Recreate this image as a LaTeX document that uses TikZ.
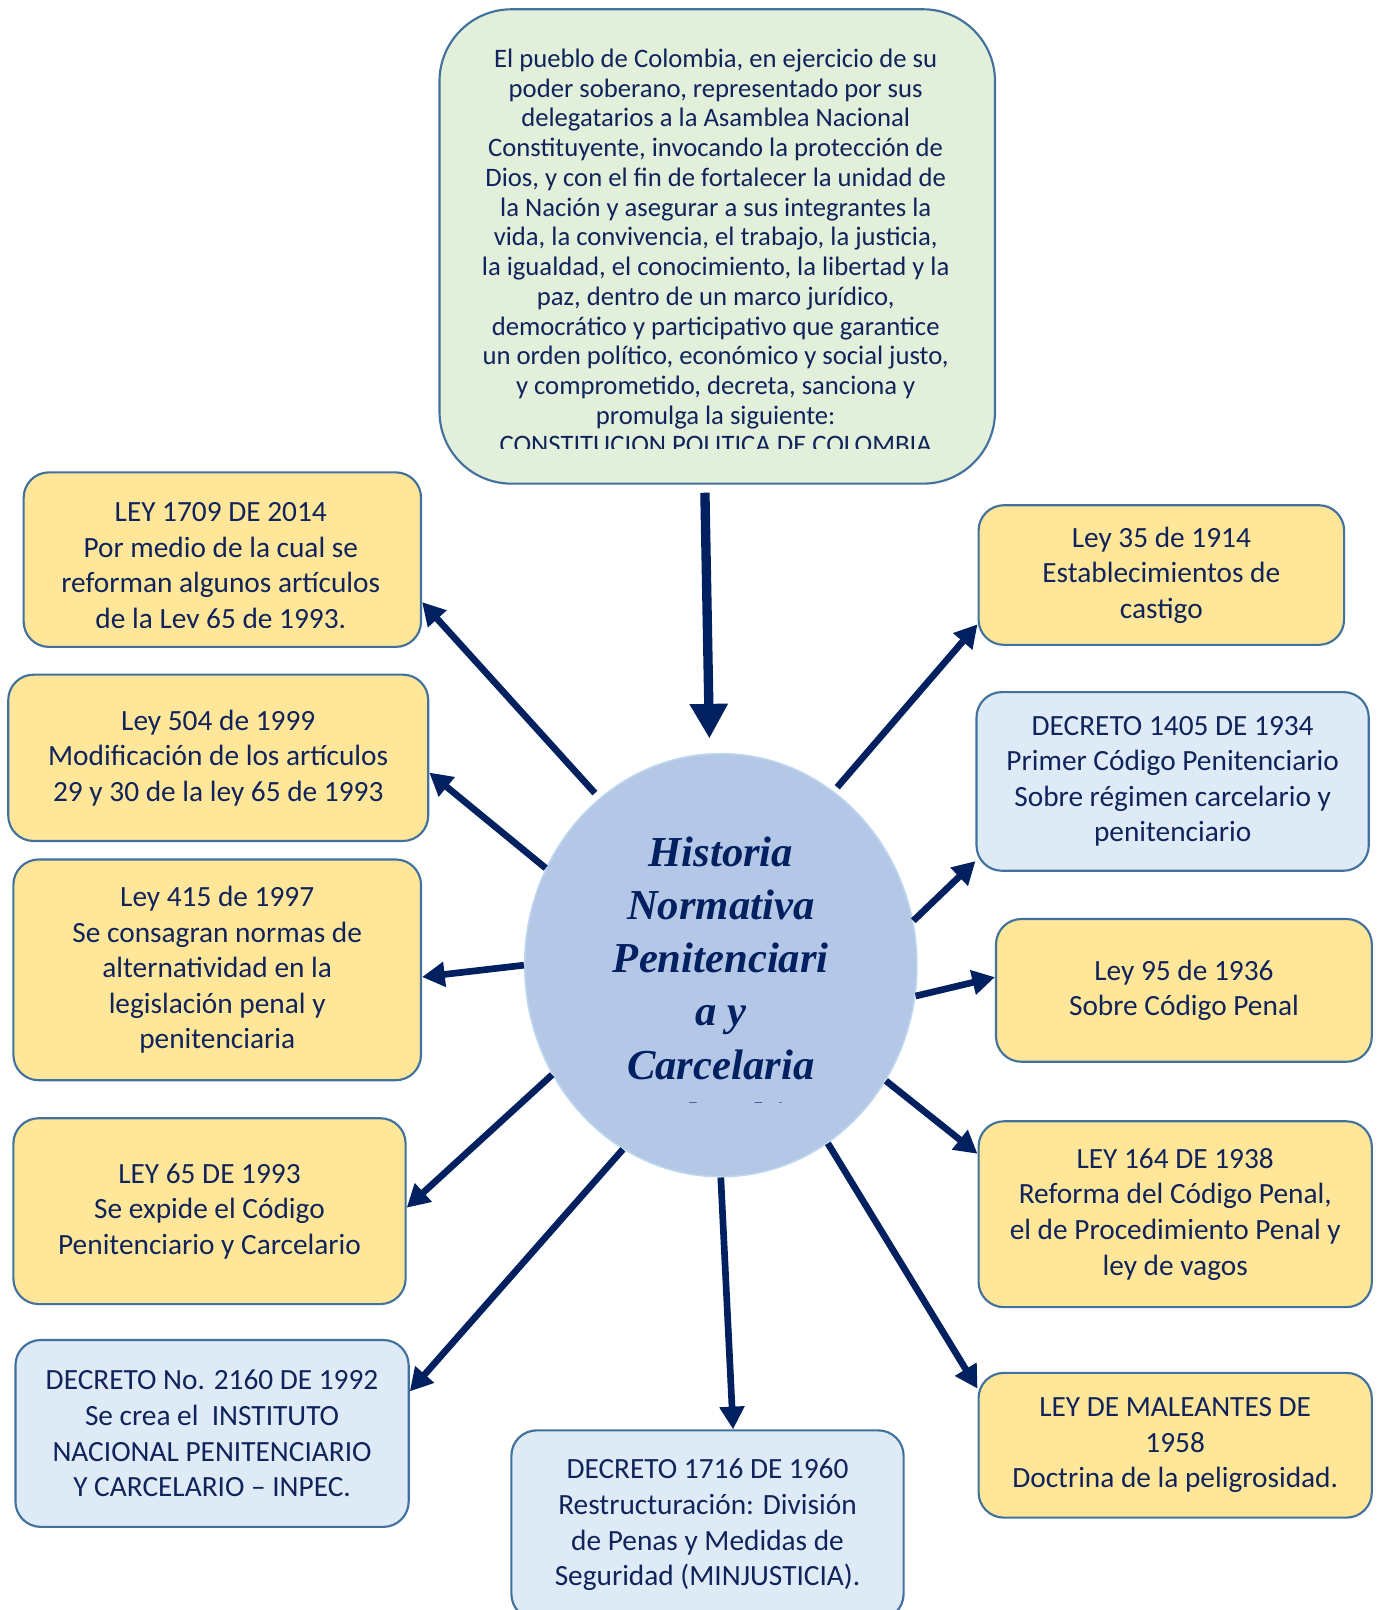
\documentclass[tikz,border=0pt]{standalone}
\usepackage{fontspec}
\setmainfont{Carlito}
\newfontfamily\tnr{Liberation Serif}
\usetikzlibrary{arrows.meta,shapes.geometric}
\definecolor{navy}{HTML}{002060}
\definecolor{txt}{HTML}{10235A}
\definecolor{bord}{HTML}{41719C}
\definecolor{yel}{HTML}{FFE699}
\definecolor{lblue}{HTML}{DEEBF7}
\definecolor{lgreen}{HTML}{E2EFDA}
\definecolor{circfill}{HTML}{B4C7E7}
\definecolor{circbord}{HTML}{BDD7EE}
\def\s{0.7701}
\tikzset{
  boxtext/.style={align=center, text=txt, font=\fontsize{22}{26.7}\selectfont, inner sep=0pt},
  box/.style={draw=bord, line width=1.6pt, rounded corners=19pt, anchor=north west, boxtext},
  ybox/.style={box, fill=yel},
  bbox/.style={box, fill=lblue},
  conn/.style={draw=navy, line width=5pt, -{Triangle[length=17pt,width=18pt]}},
  bigconn/.style={draw=navy, line width=7pt, -{Triangle[length=26pt,width=27pt]}},
}
\begin{document}
\begin{tikzpicture}[x=0.7701pt, y=-0.7701pt]
\useasboundingbox (0,0) rectangle (1341,1568);
% top box
\node[draw=bord, line width=1.6pt, rounded corners=54pt, fill=lgreen, anchor=north west,
  minimum width=541*\s, minimum height=462*\s, inner sep=0pt] (top) at (427,8) {};
\begin{scope}
\clip (427,8) rectangle (968,437);
\node[align=center, text=txt, font=\fontsize{20}{22.3}\selectfont, inner sep=0pt] (toptext) at (697,245) {El pueblo de Colombia, en ejercicio de su\\
poder soberano, representado por sus\\
delegatarios a la Asamblea Nacional\\
Constituyente, invocando la protección de\\
Dios, y con el fin de fortalecer la unidad de\\
la Nación y asegurar a sus integrantes la\\
vida, la convivencia, el trabajo, la justicia,\\
la igualdad, el conocimiento, la libertad y la\\
paz, dentro de un marco jurídico,\\
democrático y participativo que garantice\\
un orden político, económico y social justo,\\
y comprometido, decreta, sanciona y\\
promulga la siguiente:\\
CONSTITUCION POLITICA DE COLOMBIA};
\end{scope}
% circle
\node[ellipse, draw=circbord, line width=1.2pt, fill=circfill, minimum width=382*\s,
  minimum height=412*\s, inner sep=0pt] (c) at (702,940) {};
\begin{scope}
\clip (500,730) rectangle (900,1074);
\node[align=center, text=navy, font=\tnr\bfseries\itshape\fontsize{32}{39.9}\selectfont, inner sep=0pt] (ctext) at (702,959) {Historia\\Normativa\\Penitenciari\\a y\\Carcelaria\\Colombia};
\end{scope}
% left boxes
\node[ybox, minimum width=387*\s, minimum height=170*\s] (b1) at (22,459) {};
\begin{scope}
\clip (22,459) rectangle (409,611);
\node[boxtext] (b1text) at (215,553) {LEY 1709 DE 2014\\Por medio de la cual se\\reforman algunos artículos\\de la Ley 65 de 1993.};
\end{scope}
\node[ybox, minimum width=409*\s, minimum height=162*\s] (b2) at (7,656) {Ley 504 de 1999\\Modificación de los artículos\\29 y 30 de la ley 65 de 1993};
\node[ybox, minimum width=397*\s, minimum height=215*\s] (b3) at (12,836) {Ley 415 de 1997\\Se consagran normas de\\alternatividad en la\\legislación penal y\\penitenciaria};
\node[ybox, minimum width=382*\s, minimum height=181*\s] (b4) at (12,1088) {LEY 65 DE 1993\\Se expide el Código\\Penitenciario y Carcelario};
\node[bbox, minimum width=383*\s, minimum height=182*\s] (b5) at (14,1304) {DECRETO No. 2160 DE 1992\\Se crea el\ \ INSTITUTO\\NACIONAL PENITENCIARIO\\Y CARCELARIO -- INPEC.};
\node[bbox, minimum width=382*\s, minimum height=184*\s] (b6) at (497,1392) {DECRETO 1716 DE 1960\\Restructuración: División\\de Penas y Medidas de\\Seguridad (MINJUSTICIA).};
% right boxes
\node[ybox, minimum width=383*\s, minimum height=141*\s] (b7) at (952,1336) {LEY DE MALEANTES DE\\1958\\Doctrina de la peligrosidad.};
\node[ybox, minimum width=383*\s, minimum height=181*\s] (b8) at (952,1091) {LEY 164 DE 1938\\Reforma del Código Penal,\\el de Procedimiento Penal y\\ley de vagos};
\node[ybox, minimum width=366*\s, minimum height=139*\s] (b9) at (969,894) {Ley 95 de 1936\\Sobre Código Penal};
\node[bbox, minimum width=382*\s, minimum height=174*\s] (b10) at (950,673) {DECRETO 1405 DE 1934\\Primer Código Penitenciario\\Sobre régimen carcelario y\\penitenciario};
\node[ybox, minimum width=356*\s, minimum height=136*\s] (b11) at (952,491) {Ley 35 de 1914\\Establecimientos de\\castigo};
% connectors
\draw[bigconn, shorten <=6pt, shorten >=11pt] (top.267.2) -- (c.93.35);
\draw[conn, shorten <=5pt] (c.126.7) -- (b1.-12.07);
\draw[conn] (c.151.8) -- (b2.-4.56);
\draw[conn] (c.180.9) -- (b3.-2.98);
\draw[conn] (c.213.9) -- (b4.1.93);
\draw[conn] (c.242.2) -- (b5.12.6);
\draw[conn] (c.270.8) -- (b6.75.1);
\draw[conn] (c.301.5) -- (b7.164.5);
\draw[conn] (c.325.8) -- (b8.163.6);
\draw[conn] (c.351.95) -- (b9.176.75);
\draw[conn] (c.13.8) -- (b10.202.0);
\draw[conn, shorten <=4pt] (c.57.3) -- (b11.195.4);
\end{tikzpicture}
\end{document}
